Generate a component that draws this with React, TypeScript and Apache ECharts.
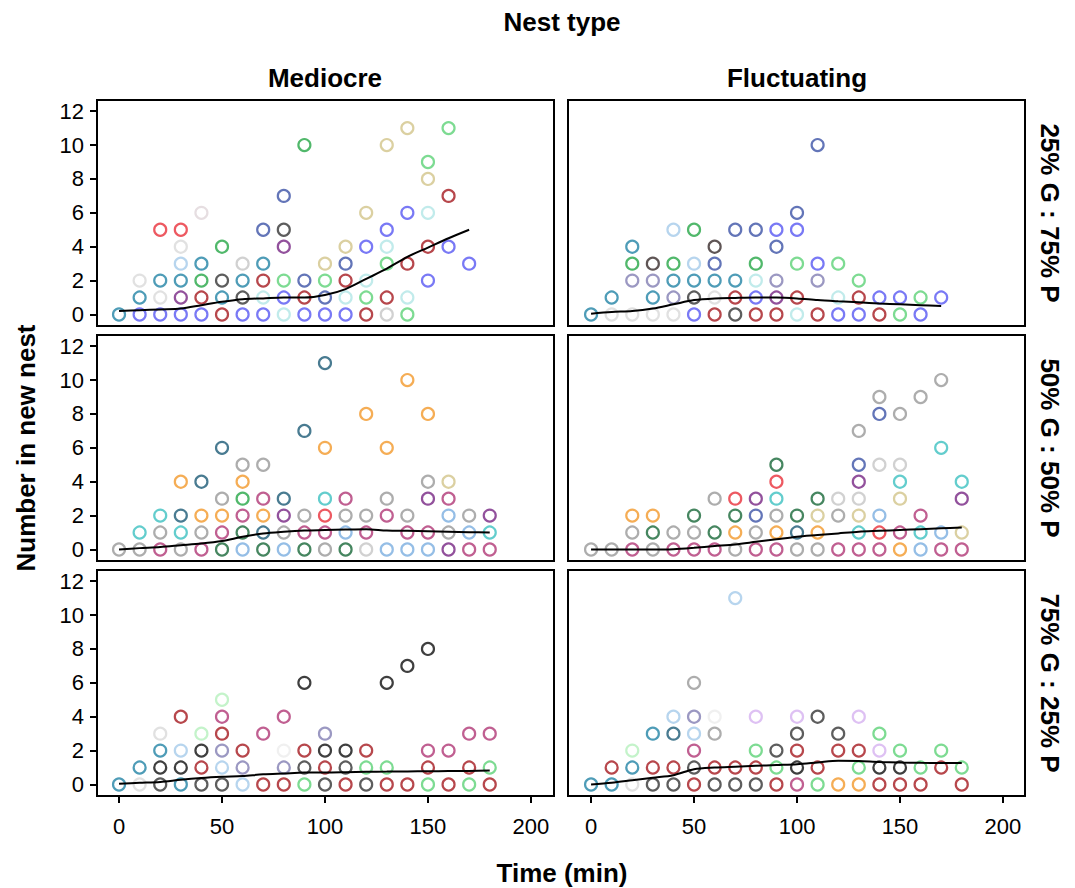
import React, { useEffect, useRef } from "react";
import * as echarts from "echarts";

// Colony colour keys (categorical colony identity)
const COLONY_COLORS: Record<string, string> = {
  teal: "#2283a5",
  blue: "#5757f2",
  lgray: "#dadada",
  red: "#e8303a",
  purple: "#772683",
  lblue: "#a5cbea",
  dred: "#a5191f",
  green: "#25a646",
  pgray: "#e0d6da",
  dgray: "#353535",
  mgray: "#c6c6c6",
  lcyan: "#b2e6e6",
  navy: "#3c52a6",
  lgreen: "#5cd277",
  khaki: "#d2c48a",
  gpurple: "#827eb3",
  dark: "#372b2b",
  gray: "#989898",
  cyan: "#3cc0c0",
  magenta: "#b03776",
  dteal: "#1b5a76",
  orange: "#f2982b",
  dgreen: "#186838",
  lblue2: "#7baee0",
  pgreen: "#b5f0bd",
  vlgray: "#ececec",
  lavender: "#d6b1f0",
  black: "#0f0f0f",
};

const COL_TITLES = ["Mediocre", "Fluctuating"];
const ROW_TITLES = ["25% G : 75% P", "50% G : 50% P", "75% G : 25% P"];
const X_TICKS = [0, 50, 100, 150, 200];
const Y_TICKS = [0, 2, 4, 6, 8, 10, 12];
const FIT_TIMES = [0, 10, 20, 30, 40, 50, 60, 70, 80, 90, 100, 110, 120, 130, 140, 150, 160, 170, 180];

// [time (min), number in new nest, colony]
const MEDIOCRE_25: [number, number, string][] = [
  [0, 0, "teal"],
  [10, 0, "blue"], [10, 1, "teal"], [10, 2, "lgray"],
  [20, 0, "blue"], [20, 1, "lgray"], [20, 2, "teal"], [20, 5, "red"],
  [30, 0, "blue"], [30, 1, "purple"], [30, 2, "teal"], [30, 3, "lblue"], [30, 4, "lgray"], [30, 5, "red"],
  [40, 0, "blue"], [40, 1, "dred"], [40, 2, "green"], [40, 3, "teal"], [40, 6, "pgray"],
  [50, 0, "dred"], [50, 1, "teal"], [50, 2, "dgray"], [50, 4, "green"],
  [60, 0, "blue"], [60, 1, "dgray"], [60, 2, "teal"], [60, 3, "mgray"],
  [70, 0, "blue"], [70, 1, "lcyan"], [70, 2, "dred"], [70, 3, "teal"], [70, 5, "navy"],
  [80, 0, "lcyan"], [80, 1, "blue"], [80, 2, "lgreen"], [80, 4, "purple"], [80, 5, "dgray"], [80, 7, "navy"],
  [90, 0, "blue"], [90, 1, "dred"], [90, 2, "navy"], [90, 10, "green"],
  [100, 0, "blue"], [100, 1, "navy"], [100, 2, "lgreen"], [100, 3, "khaki"],
  [110, 0, "blue"], [110, 1, "lcyan"], [110, 2, "dred"], [110, 3, "navy"], [110, 4, "khaki"],
  [120, 0, "dred"], [120, 1, "lgreen"], [120, 2, "lcyan"], [120, 4, "blue"], [120, 6, "khaki"],
  [130, 0, "mgray"], [130, 1, "dred"], [130, 3, "lgreen"], [130, 4, "lcyan"], [130, 5, "blue"], [130, 10, "khaki"],
  [140, 0, "lgreen"], [140, 1, "lcyan"], [140, 3, "dred"], [140, 6, "blue"], [140, 11, "khaki"],
  [150, 2, "blue"], [150, 4, "dred"], [150, 6, "lcyan"], [150, 8, "khaki"], [150, 9, "lgreen"],
  [160, 4, "blue"], [160, 7, "dred"], [160, 11, "lgreen"],
  [170, 3, "blue"],
];

const FLUCT_25: [number, number, string][] = [
  [0, 0, "teal"],
  [10, 0, "lgray"], [10, 1, "teal"],
  [20, 0, "lgray"], [20, 2, "gpurple"], [20, 3, "green"], [20, 4, "teal"],
  [30, 0, "lgray"], [30, 1, "teal"], [30, 2, "gpurple"], [30, 3, "dark"],
  [40, 0, "lgray"], [40, 1, "gpurple"], [40, 2, "teal"], [40, 3, "green"], [40, 5, "lblue"],
  [50, 0, "blue"], [50, 1, "dgray"], [50, 2, "teal"], [50, 3, "lblue"], [50, 5, "green"],
  [60, 0, "dred"], [60, 1, "lgray"], [60, 2, "teal"], [60, 3, "navy"], [60, 4, "dark"],
  [70, 0, "dgray"], [70, 1, "dred"], [70, 2, "teal"], [70, 5, "navy"],
  [80, 0, "dred"], [80, 1, "blue"], [80, 2, "lcyan"], [80, 3, "green"], [80, 5, "navy"],
  [90, 0, "dred"], [90, 1, "purple"], [90, 2, "gpurple"], [90, 4, "navy"], [90, 5, "blue"],
  [100, 0, "lcyan"], [100, 1, "dred"], [100, 3, "lgreen"], [100, 5, "blue"], [100, 6, "navy"],
  [110, 0, "dred"], [110, 2, "gpurple"], [110, 3, "blue"], [110, 10, "navy"],
  [120, 0, "blue"], [120, 1, "lcyan"], [120, 3, "lgreen"],
  [130, 0, "blue"], [130, 1, "dred"], [130, 2, "lgreen"],
  [140, 0, "dred"], [140, 1, "blue"],
  [150, 0, "lgreen"], [150, 1, "blue"],
  [160, 0, "blue"], [160, 1, "lgreen"],
  [170, 1, "blue"],
];

const MEDIOCRE_50: [number, number, string][] = [
  [0, 0, "gray"],
  [10, 0, "gray"], [10, 1, "cyan"],
  [20, 0, "magenta"], [20, 1, "gray"], [20, 2, "cyan"],
  [30, 0, "gray"], [30, 1, "cyan"], [30, 2, "dteal"], [30, 4, "orange"],
  [40, 0, "magenta"], [40, 1, "gray"], [40, 2, "orange"], [40, 4, "dteal"],
  [50, 0, "dgreen"], [50, 1, "magenta"], [50, 2, "orange"], [50, 3, "gray"], [50, 6, "dteal"],
  [60, 0, "lblue2"], [60, 1, "dgreen"], [60, 2, "magenta"], [60, 3, "green"], [60, 4, "orange"], [60, 5, "gray"],
  [70, 0, "dgreen"], [70, 1, "dteal"], [70, 2, "orange"], [70, 3, "magenta"], [70, 5, "gray"],
  [80, 0, "lblue2"], [80, 1, "gray"], [80, 2, "purple"], [80, 3, "dteal"],
  [90, 0, "dgreen"], [90, 1, "magenta"], [90, 2, "gray"], [90, 7, "dteal"],
  [100, 0, "gray"], [100, 1, "magenta"], [100, 2, "red"], [100, 3, "cyan"], [100, 6, "orange"], [100, 11, "dteal"],
  [110, 0, "dgreen"], [110, 1, "lblue2"], [110, 2, "gray"], [110, 3, "magenta"],
  [120, 0, "mgray"], [120, 1, "magenta"], [120, 2, "gray"], [120, 8, "orange"],
  [130, 0, "lblue2"], [130, 2, "magenta"], [130, 3, "gray"], [130, 6, "orange"],
  [140, 0, "lblue2"], [140, 1, "magenta"], [140, 2, "gray"], [140, 10, "orange"],
  [150, 0, "lblue2"], [150, 1, "magenta"], [150, 3, "purple"], [150, 4, "gray"], [150, 8, "orange"],
  [160, 0, "purple"], [160, 1, "gray"], [160, 2, "lblue2"], [160, 3, "magenta"], [160, 4, "khaki"],
  [170, 0, "magenta"], [170, 1, "lblue2"], [170, 2, "gray"],
  [180, 0, "magenta"], [180, 1, "cyan"], [180, 2, "purple"],
];

const FLUCT_50: [number, number, string][] = [
  [0, 0, "gray"],
  [10, 0, "gray"],
  [20, 0, "magenta"], [20, 1, "gray"], [20, 2, "orange"],
  [30, 0, "gray"], [30, 1, "dgreen"], [30, 2, "orange"],
  [40, 0, "magenta"], [40, 1, "gray"],
  [50, 0, "magenta"], [50, 1, "gray"], [50, 2, "dgreen"],
  [60, 0, "magenta"], [60, 1, "dgreen"], [60, 3, "gray"],
  [70, 0, "gray"], [70, 1, "orange"], [70, 2, "dgreen"], [70, 3, "red"],
  [80, 0, "magenta"], [80, 1, "gray"], [80, 2, "navy"], [80, 3, "purple"],
  [90, 0, "magenta"], [90, 1, "orange"], [90, 2, "gray"], [90, 3, "cyan"], [90, 4, "red"], [90, 5, "dgreen"],
  [100, 0, "gray"], [100, 1, "dteal"], [100, 2, "dgreen"],
  [110, 0, "gray"], [110, 1, "orange"], [110, 2, "khaki"], [110, 3, "dgreen"],
  [120, 0, "magenta"], [120, 2, "gray"], [120, 3, "mgray"],
  [130, 0, "magenta"], [130, 1, "cyan"], [130, 2, "khaki"], [130, 3, "mgray"], [130, 4, "purple"], [130, 5, "navy"], [130, 7, "gray"],
  [140, 0, "magenta"], [140, 1, "red"], [140, 2, "lblue2"], [140, 5, "mgray"], [140, 8, "navy"], [140, 9, "gray"],
  [150, 0, "orange"], [150, 1, "magenta"], [150, 3, "khaki"], [150, 4, "cyan"], [150, 5, "mgray"], [150, 8, "gray"],
  [160, 0, "lblue2"], [160, 1, "cyan"], [160, 2, "magenta"], [160, 9, "gray"],
  [170, 0, "magenta"], [170, 1, "lblue2"], [170, 6, "cyan"], [170, 10, "gray"],
  [180, 0, "magenta"], [180, 1, "khaki"], [180, 3, "purple"], [180, 4, "cyan"],
];

const MEDIOCRE_75: [number, number, string][] = [
  [0, 0, "teal"],
  [10, 0, "lgray"], [10, 1, "teal"],
  [20, 0, "dgray"], [20, 1, "black"], [20, 2, "teal"], [20, 3, "lgray"],
  [30, 0, "teal"], [30, 1, "black"], [30, 2, "lblue"], [30, 4, "dred"],
  [40, 0, "dgray"], [40, 1, "dred"], [40, 2, "black"], [40, 3, "pgreen"],
  [50, 0, "dgray"], [50, 1, "lblue"], [50, 2, "gpurple"], [50, 3, "dred"], [50, 4, "magenta"], [50, 5, "pgreen"],
  [60, 0, "lblue"], [60, 1, "gpurple"], [60, 2, "dred"],
  [70, 0, "dred"], [70, 3, "magenta"],
  [80, 0, "dred"], [80, 1, "gpurple"], [80, 2, "vlgray"], [80, 4, "magenta"],
  [90, 0, "lgreen"], [90, 1, "dgray"], [90, 2, "dred"], [90, 6, "black"],
  [100, 0, "dgray"], [100, 1, "dred"], [100, 2, "black"], [100, 3, "gpurple"],
  [110, 0, "dred"], [110, 1, "dgray"], [110, 2, "black"],
  [120, 0, "dgray"], [120, 1, "lgreen"], [120, 2, "dred"],
  [130, 0, "dred"], [130, 1, "lgreen"], [130, 6, "black"],
  [140, 0, "dred"], [140, 7, "black"],
  [150, 0, "lgreen"], [150, 1, "dred"], [150, 2, "magenta"], [150, 8, "black"],
  [160, 0, "dred"], [160, 2, "magenta"],
  [170, 0, "lgreen"], [170, 1, "dred"], [170, 3, "magenta"],
  [180, 0, "dred"], [180, 1, "lgreen"], [180, 3, "magenta"],
];

const FLUCT_75: [number, number, string][] = [
  [0, 0, "teal"],
  [10, 0, "teal"], [10, 1, "dred"],
  [20, 0, "lgray"], [20, 1, "teal"], [20, 2, "pgreen"],
  [30, 0, "dgray"], [30, 1, "dred"], [30, 3, "teal"],
  [40, 0, "dgray"], [40, 1, "dred"], [40, 3, "dteal"], [40, 4, "lblue"],
  [50, 0, "dred"], [50, 1, "dgray"], [50, 2, "magenta"], [50, 3, "lblue"], [50, 4, "gpurple"], [50, 6, "gray"],
  [60, 0, "dgray"], [60, 1, "dred"], [60, 3, "gray"], [60, 4, "vlgray"],
  [70, 0, "dgray"], [70, 1, "dred"], [70, 11, "lblue"],
  [80, 0, "dgray"], [80, 1, "dred"], [80, 2, "lgreen"], [80, 4, "lavender"],
  [90, 0, "dred"], [90, 1, "lgreen"], [90, 2, "dgray"],
  [100, 0, "magenta"], [100, 1, "black"], [100, 2, "dred"], [100, 3, "dgray"], [100, 4, "lavender"],
  [110, 0, "lgreen"], [110, 1, "dred"], [110, 4, "dgray"],
  [120, 0, "orange"], [120, 2, "dred"], [120, 3, "dgray"],
  [130, 0, "orange"], [130, 1, "lgreen"], [130, 2, "dred"], [130, 4, "lavender"],
  [140, 0, "dred"], [140, 1, "black"], [140, 2, "lavender"], [140, 3, "lgreen"],
  [150, 0, "dred"], [150, 1, "black"], [150, 2, "lgreen"],
  [160, 0, "dred"], [160, 1, "lgreen"],
  [170, 1, "dred"], [170, 2, "lgreen"],
  [180, 0, "dred"], [180, 1, "lgreen"],
];

// Smoothed trend values at FIT_TIMES
const MEDIOCRE_25_FIT = [0.2, 0.25, 0.3, 0.35, 0.55, 0.75, 0.9, 0.95, 1.0, 1.0, 1.15, 1.5, 2.1, 2.7, 3.4, 3.95, 4.5, 5.0];
const FLUCT_25_FIT = [0.05, 0.15, 0.2, 0.35, 0.6, 0.85, 0.95, 0.98, 1.0, 1.0, 0.95, 0.85, 0.78, 0.72, 0.65, 0.6, 0.55, 0.5];
const MEDIOCRE_50_FIT = [0, 0.08, 0.15, 0.25, 0.35, 0.5, 0.75, 0.95, 1.05, 1.12, 1.15, 1.18, 1.2, 1.12, 1.1, 1.08, 1.05, 1.02, 1.0];
const FLUCT_50_FIT = [0, 0, 0, 0, 0.02, 0.1, 0.2, 0.3, 0.45, 0.6, 0.75, 0.85, 0.95, 1.05, 1.1, 1.15, 1.2, 1.25, 1.3];
const MEDIOCRE_75_FIT = [0.05, 0.1, 0.15, 0.28, 0.38, 0.45, 0.5, 0.6, 0.65, 0.7, 0.7, 0.72, 0.75, 0.76, 0.77, 0.78, 0.79, 0.8, 0.82];
const FLUCT_75_FIT = [0, 0.1, 0.25, 0.4, 0.55, 0.9, 1.0, 1.05, 1.1, 1.15, 1.2, 1.3, 1.4, 1.38, 1.33, 1.3, 1.28, 1.27, 1.27];

const PANELS = [
  { points: MEDIOCRE_25, fit: MEDIOCRE_25_FIT, col: 0, row: 0 },
  { points: FLUCT_25, fit: FLUCT_25_FIT, col: 1, row: 0 },
  { points: MEDIOCRE_50, fit: MEDIOCRE_50_FIT, col: 0, row: 1 },
  { points: FLUCT_50, fit: FLUCT_50_FIT, col: 1, row: 1 },
  { points: MEDIOCRE_75, fit: MEDIOCRE_75_FIT, col: 0, row: 2 },
  { points: FLUCT_75, fit: FLUCT_75_FIT, col: 1, row: 2 },
];

const FONT = "'Liberation Sans', Arial, sans-serif";

export default function App() {
  const ref = useRef<HTMLDivElement>(null);

  useEffect(() => {
    if (!ref.current) return;
    const chart = echarts.init(ref.current, null, { renderer: "svg" });

    const GRID_LEFT = [97, 568];
    const GRID_TOP = [100, 335, 570];
    const GRID_W = 457;
    const GRID_H = 226;
    const X_MIN = [-10.7, -11.2];
    const X_MAX = [211.2, 210.7];
    const Y_MIN = -0.68;
    const Y_MAX = 12.66;

    const grids: any[] = [];
    const xAxes: any[] = [];
    const yAxes: any[] = [];
    const series: any[] = [];

    PANELS.forEach((p, i) => {
      grids.push({
        left: GRID_LEFT[p.col],
        top: GRID_TOP[p.row],
        width: GRID_W,
        height: GRID_H,
        show: true,
        borderColor: "#000",
        borderWidth: 2,
        backgroundColor: "#fff",
        containLabel: false,
      });
      const bottomRow = p.row === 2;
      xAxes.push({
        type: "value",
        gridIndex: i,
        position: "bottom",
        min: X_MIN[p.col],
        max: X_MAX[p.col],
        splitLine: { show: false },
        axisLine: { show: false, onZero: false },
        axisTick: {
          show: bottomRow,
          customValues: X_TICKS,
          length: 7,
          inside: false,
          lineStyle: { color: "#000", width: 2 },
        },
        axisLabel: {
          show: bottomRow,
          customValues: X_TICKS,
          margin: 19,
          color: "#000",
          fontSize: 22,
          fontFamily: FONT,
        },
      });
      const leftCol = p.col === 0;
      yAxes.push({
        type: "value",
        gridIndex: i,
        position: "left",
        min: Y_MIN,
        max: Y_MAX,
        splitLine: { show: false },
        axisLine: { show: false, onZero: false },
        axisTick: {
          show: leftCol,
          customValues: Y_TICKS,
          length: 7,
          inside: false,
          lineStyle: { color: "#000", width: 2 },
        },
        axisLabel: {
          show: leftCol,
          customValues: Y_TICKS,
          margin: 13,
          color: "#000",
          fontSize: 22,
          fontFamily: FONT,
        },
      });
      series.push({
        type: "scatter",
        xAxisIndex: i,
        yAxisIndex: i,
        symbol: "circle",
        symbolSize: 12,
        z: 2,
        data: p.points.map(([t, n, c]) => ({
          value: [t, n],
          itemStyle: {
            color: "rgba(255,255,255,0)",
            borderColor: COLONY_COLORS[c],
            borderWidth: 2.2,
          },
        })),
      });
      series.push({
        type: "line",
        xAxisIndex: i,
        yAxisIndex: i,
        showSymbol: false,
        symbol: "none",
        smooth: 0.3,
        z: 5,
        lineStyle: { color: "#000", width: 2 },
        data: p.fit.map((v, k) => [FIT_TIMES[k], v]),
      });
    });

    const titleStyle = (text: string) => ({
      text,
      font: `bold 26px ${FONT}`,
      fill: "#000",
      textAlign: "center",
      textVerticalAlign: "middle",
    });

    const graphic: any[] = [
      { type: "text", x: 562, y: 22, style: titleStyle("Nest type") },
      { type: "text", x: 325, y: 78, style: titleStyle(COL_TITLES[0]) },
      { type: "text", x: 797, y: 78, style: titleStyle(COL_TITLES[1]) },
      { type: "text", x: 562, y: 873, style: titleStyle("Time (min)") },
      { type: "text", x: 26, y: 448, rotation: Math.PI / 2, style: titleStyle("Number in new nest") },
      ...ROW_TITLES.map((t, r) => ({
        type: "text",
        x: 1050,
        y: GRID_TOP[r] + GRID_H / 2,
        rotation: -Math.PI / 2,
        style: titleStyle(t),
      })),
    ];

    chart.setOption({
      animation: false,
      backgroundColor: "#fff",
      grid: grids,
      xAxis: xAxes,
      yAxis: yAxes,
      series,
      graphic,
    });

    return () => chart.dispose();
  }, []);

  return (
    <div
      ref={ref}
      style={{ position: "absolute", left: 0, top: 0, width: 1075, height: 888 }}
    />
  );
}
